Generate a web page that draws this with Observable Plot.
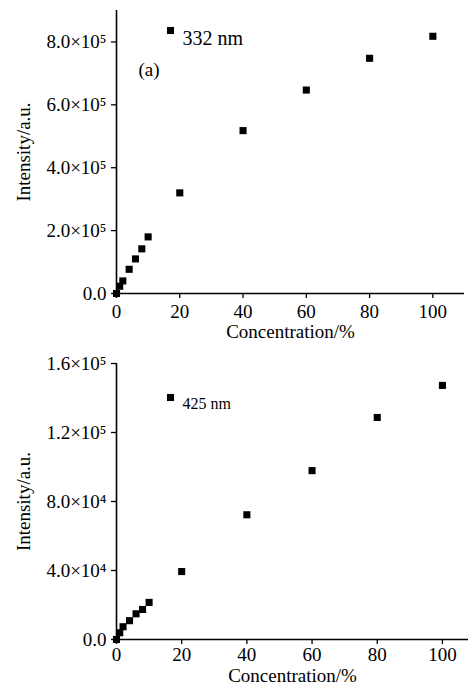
<!DOCTYPE html>
<html>
<head>
<meta charset="utf-8">
<script src="https://cdn.jsdelivr.net/npm/d3@7"></script>
<script src="https://cdn.jsdelivr.net/npm/@observablehq/plot@0.6"></script>
<style>
  body { margin: 0; background: #fff; }
  #wrap { position: relative; width: 469px; height: 685px; overflow: hidden; }
  #top, #bottom { position: absolute; left: 0; }
  #top { top: 0; }
  #bottom { top: 340px; }
  svg, svg text { font-family: "Liberation Serif", "Times New Roman", serif !important; }
</style>
</head>
<body>
<div id="wrap"><div id="bottom"></div><div id="top"></div></div>
<script>
// Data
const concentration = [0, 1, 2, 4, 6, 8, 10, 20, 40, 60, 80, 100];
const intensity332 = [0, 23000, 40000, 77000, 110000, 142000, 180000, 320000, 518000, 647000, 748000, 818000];
const intensity425 = [0, 3900, 7400, 10900, 14900, 17400, 21500, 39400, 72300, 97900, 128700, 147300];
const xTicks = [0, 20, 40, 60, 80, 100];
const yTicksTop = [0, 200000, 400000, 600000, 800000];
const yTicksBottom = [0, 40000, 80000, 120000, 160000];
const legendTop = "332 nm";
const legendBottom = "425 nm";
const panelLabel = "(a)";
const xLabel = "Concentration/%";
const yLabel = "Intensity/a.u.";

const sup = {"0":"⁰","1":"¹","2":"²","3":"³","4":"⁴","5":"⁵","6":"⁶","7":"⁷","8":"⁸","9":"⁹"};
function sci(v) {
  if (v === 0) return "0.0";
  const e = Math.floor(Math.log10(v));
  const m = v / Math.pow(10, e);
  return m.toFixed(1) + "×10" + String(e).split("").map(c => sup[c]).join("");
}

const FONT = "'Liberation Serif', 'Times New Roman', serif";

function panel(values, opts) {
  const data = concentration.map((c, i) => ({c, v: values[i]}));
  return Plot.plot({
    width: 469,
    height: opts.height,
    marginTop: opts.marginTop,
    marginBottom: opts.marginBottom,
    marginLeft: 116,
    marginRight: opts.marginRight,
    style: {fontFamily: FONT, fontSize: "19px", color: "#000", background: "transparent", overflow: "visible"},
    x: {domain: opts.xDomain},
    y: {domain: opts.yDomain},
    marks: [
      Plot.axisX({ticks: xTicks, tickSize: 5, tickPadding: opts.xTickPadding, tickFormat: d => String(d), fontSize: 19, fontFamily: FONT,
        label: xLabel, labelAnchor: "center", labelArrow: "none", labelOffset: opts.xLabelOffset, strokeWidth: 1.3}),
      Plot.axisY({ticks: opts.yTicks, tickSize: 5, tickPadding: 5, tickFormat: sci, fontSize: 19, fontFamily: FONT,
        label: yLabel, labelAnchor: "center", labelArrow: "none", labelOffset: 100, strokeWidth: 1.3}),
      Plot.ruleY([opts.yDomain[0]], {strokeWidth: 1.6}),
      Plot.ruleX([opts.xDomain[0]], {strokeWidth: 1.6}),
      Plot.dot(data, {x: "c", y: "v", symbol: "square", r: 4, fill: "black", stroke: null}),
      Plot.dot([0], {frameAnchor: "top-left", dx: 54, dy: opts.legendDy, symbol: "square", r: 4, fill: "black", stroke: null}),
      Plot.text([opts.legend], {frameAnchor: "top-left", dx: 66, dy: opts.legendDy, text: d => d, textAnchor: "start", fontSize: opts.legendSize, fontFamily: FONT, fill: "black"}),
      ...(opts.panel ? [Plot.text([opts.panel], {frameAnchor: "top-left", dx: 22, dy: 52, text: d => d, textAnchor: "start", fontSize: 19, fontFamily: FONT, fill: "black"})] : [])
    ]
  });
}

document.getElementById("top").appendChild(panel(intensity332, {
  height: 360, marginTop: 10, marginBottom: 67, marginRight: 5,
  xDomain: [0, 110], yDomain: [0, 900000], yTicks: yTicksTop, xLabelOffset: 44, xTickPadding: 6,
  legend: legendTop, legendDy: 20, legendSize: 20, panel: panelLabel
}));
document.getElementById("bottom").appendChild(panel(intensity425, {
  height: 345, marginTop: 23, marginBottom: 46, marginRight: 1,
  xDomain: [0, 108], yDomain: [0, 160000], yTicks: yTicksBottom, xLabelOffset: 42, xTickPadding: 3,
  legend: legendBottom, legendDy: 34, legendSize: 16
}));
</script>
</body>
</html>
